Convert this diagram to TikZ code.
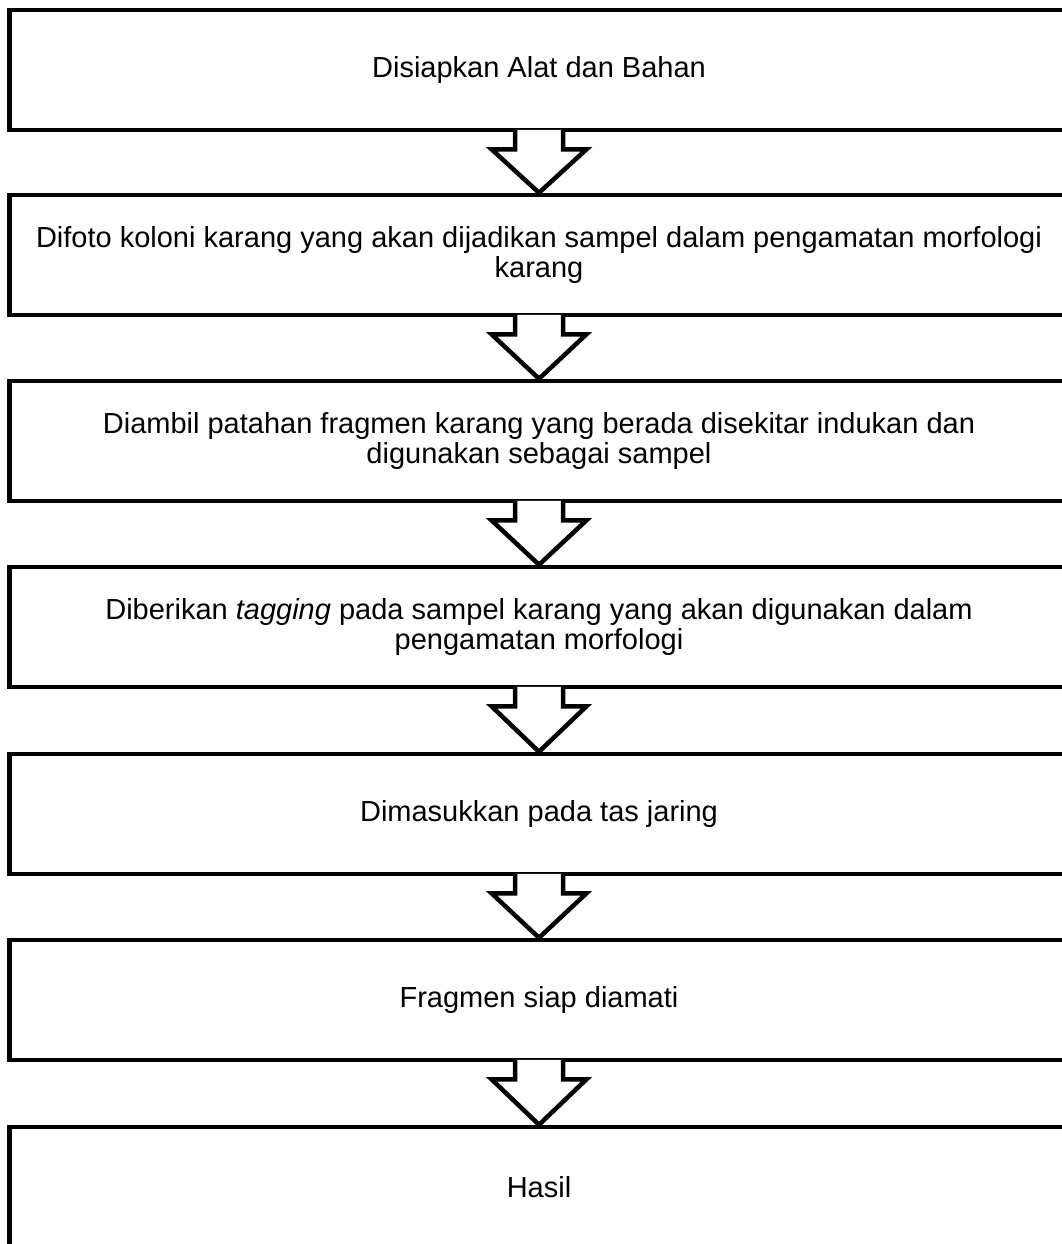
\documentclass[tikz,border=0pt]{standalone}
\usepackage{fontspec}
\setmainfont{Liberation Sans}
\usepackage{tikz}
\usetikzlibrary{calc}
\tikzset{
  proc/.style={draw,line width=4.5pt,minimum width=1059pt,minimum height=120pt,inner sep=0pt,align=center,font=\fontsize{29}{30}\selectfont},
  blk/.style={draw=black,fill=white,line width=4.5pt}
}
\newcommand{\flowarrow}[2]{\filldraw[blk] ($(#1.south)+(-24,-2.3)$) -- ++(0,19.3) -- ++(-23.5,0) -- (#2.north) -- ($(#1.south)+(47.5,17)$) -- ++(-23.5,0) -- ++(0,-19.3);}

\begin{document}
\begin{tikzpicture}[x=1pt,y=-1pt]
\useasboundingbox (0,0) rectangle (1062,1244);
\clip (0,0) rectangle (1062,1244);
\node[proc] (alat) at (539,70) {Disiapkan Alat dan Bahan};
\node[proc] (foto) at (539,255) {Difoto koloni karang yang akan dijadikan sampel dalam pengamatan morfologi\\karang};
\node[proc] (ambil) at (539,441) {Diambil patahan fragmen karang yang berada disekitar indukan dan\\digunakan sebagai sampel};
\node[proc] (tag) at (539,627) {Diberikan \textit{tagging} pada sampel karang yang akan digunakan dalam\\pengamatan morfologi};
\node[proc] (tas) at (539,814) {Dimasukkan pada tas jaring};
\node[proc] (siap) at (539,1000) {Fragmen siap diamati};
\node[proc] (hasil) at (539,1187) {Hasil};
\flowarrow{alat}{foto}
\flowarrow{foto}{ambil}
\flowarrow{ambil}{tag}
\flowarrow{tag}{tas}
\flowarrow{tas}{siap}
\flowarrow{siap}{hasil}
\end{tikzpicture}
\end{document}
